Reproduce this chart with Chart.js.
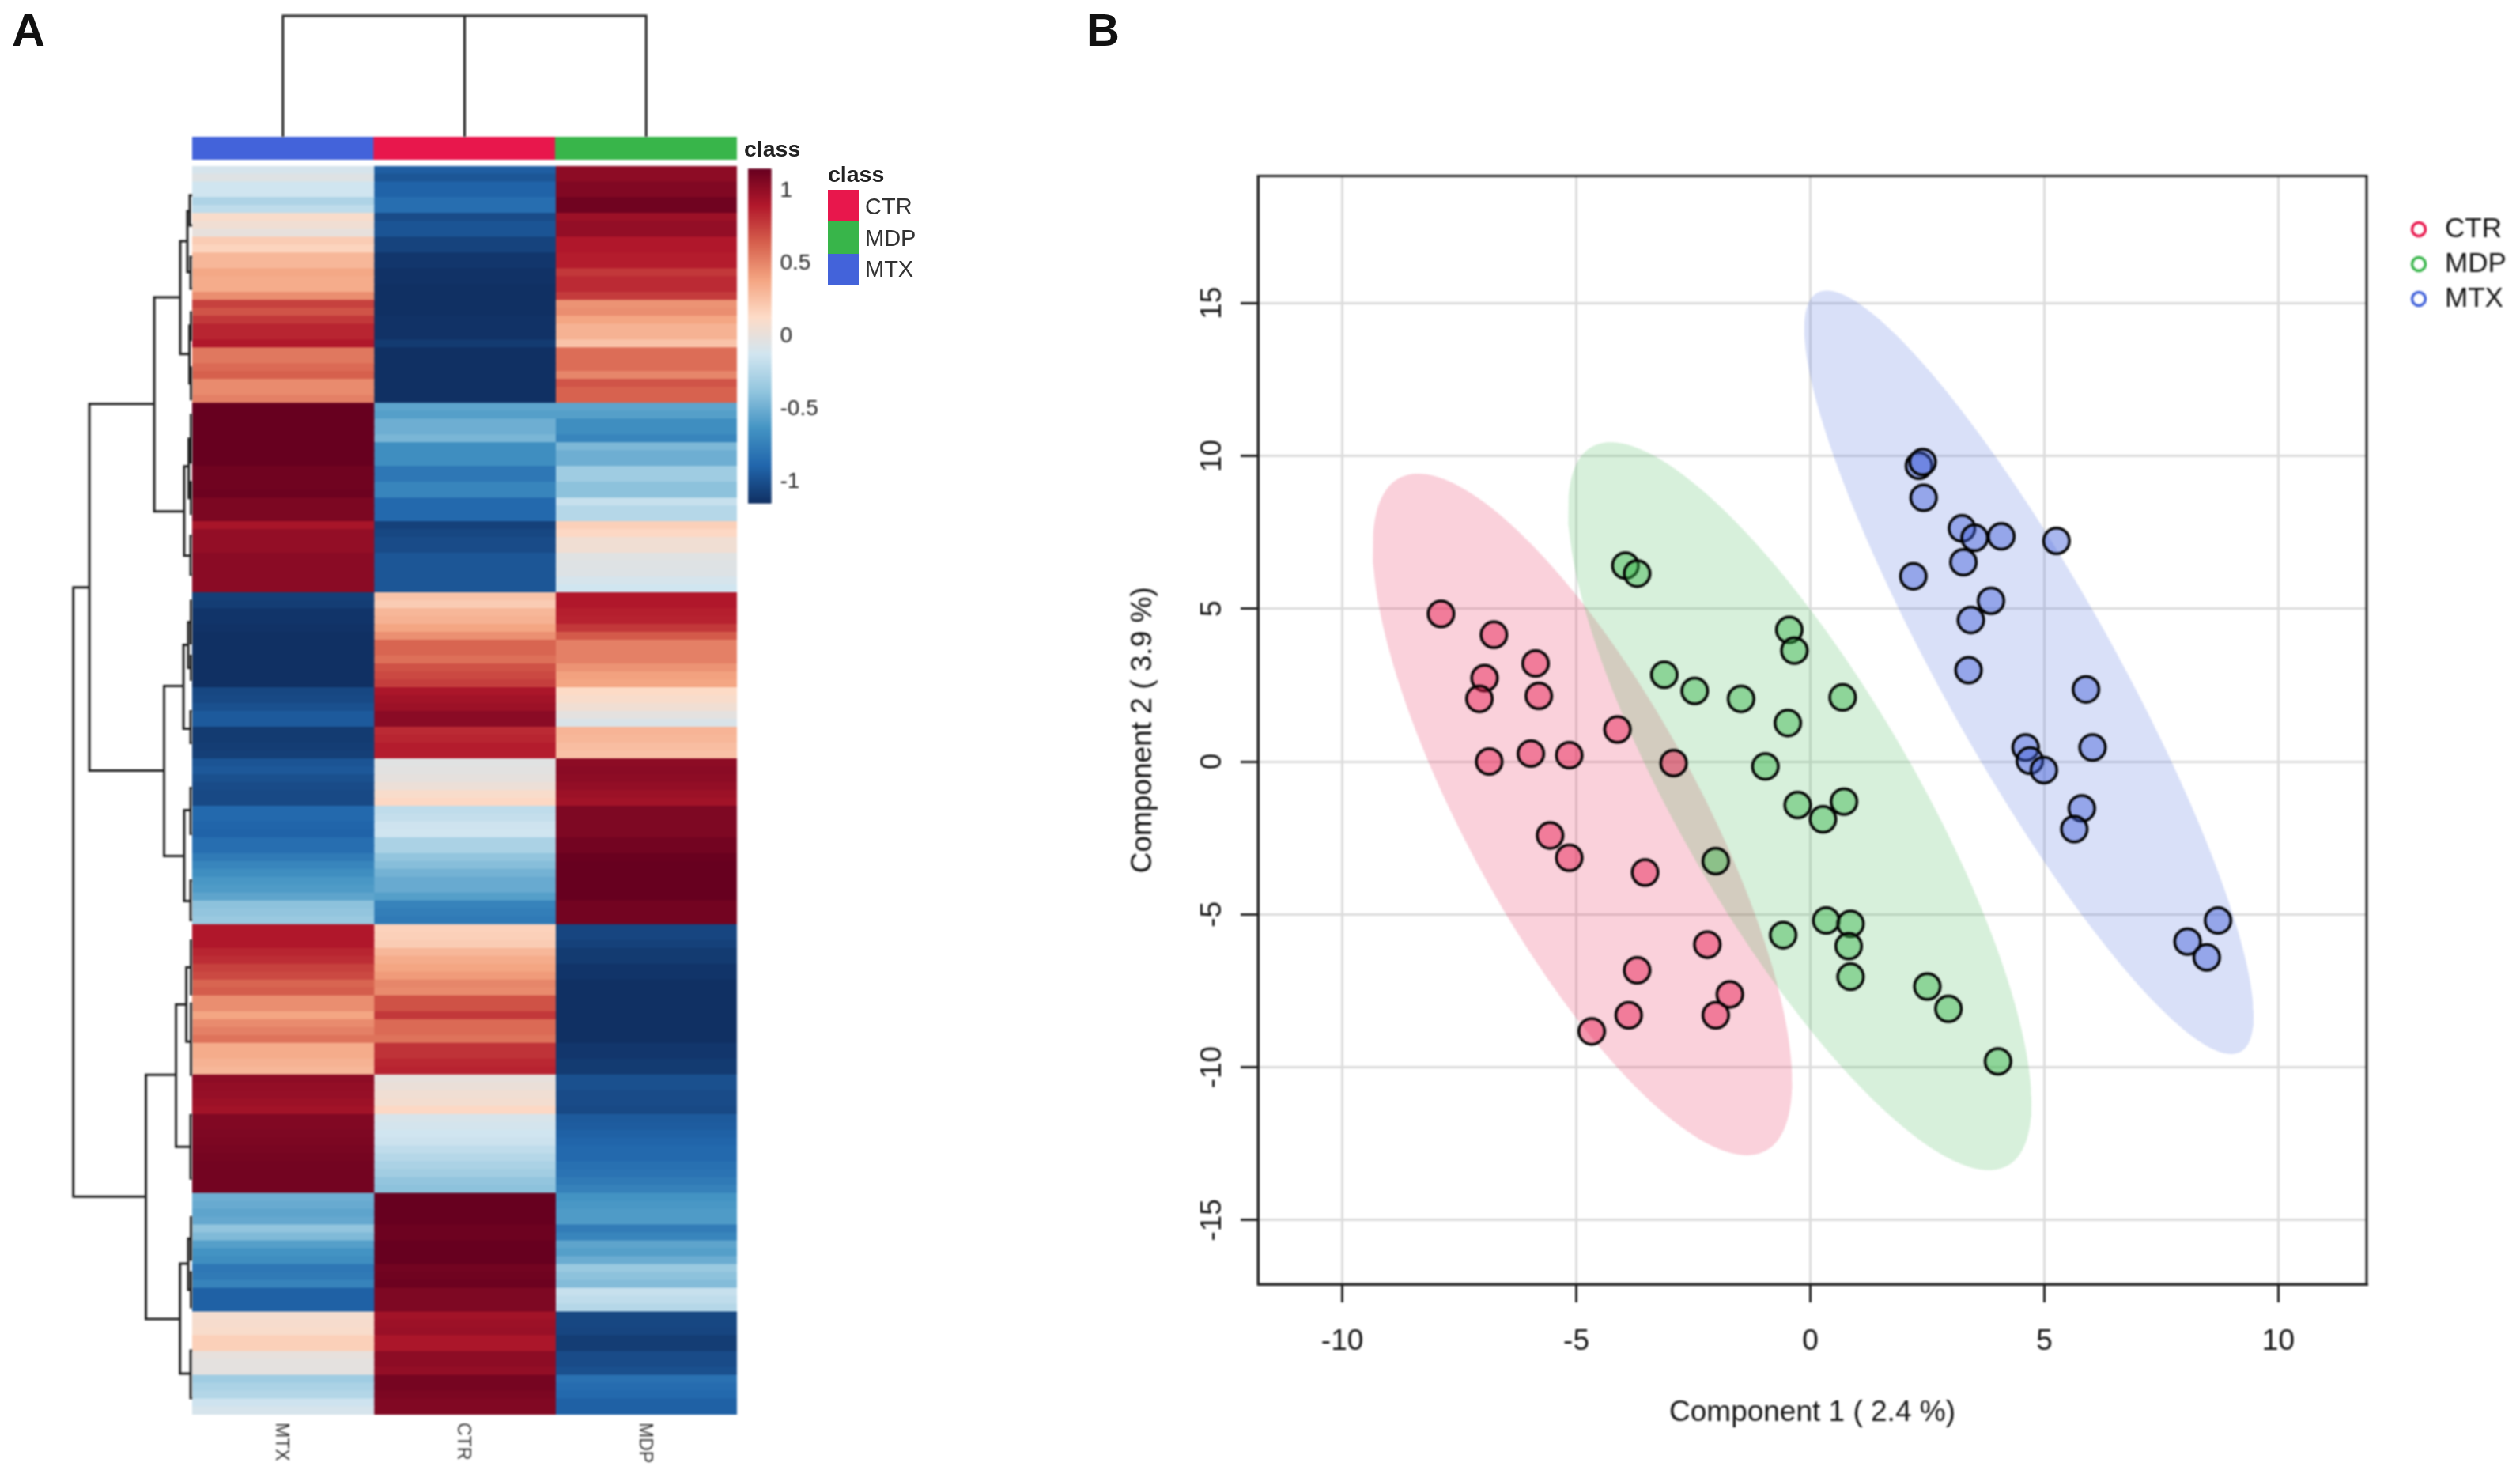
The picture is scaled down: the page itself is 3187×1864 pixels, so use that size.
<!DOCTYPE html>
<html><head><meta charset="utf-8">
<style>
html,body{margin:0;padding:0;background:#fff;width:3187px;height:1864px;overflow:hidden}
canvas{position:absolute;display:block;filter:blur(.9px)}
.t{position:absolute;font-family:"Liberation Sans",Arial,sans-serif;color:#222;white-space:nowrap;line-height:1;transform:translateY(-50%);filter:blur(.5px)}
.s{position:absolute}
</style>
<script src="https://cdn.jsdelivr.net/npm/chart.js@4/dist/chart.umd.min.js"></script>
</head><body>
<script>
// ---------- data ----------
const categories = ['MTX','CTR','MDP'];
const classNames = ['CTR','MDP','MTX'];
const classColors = {CTR:'#E8174C', MDP:'#38B54A', MTX:'#4363DA'};
const heatMTX = [-.10,-.05,-.13,-.13,-.27,-.20,.10,.05,0,.20,.16,.30,.30,.37,.35,.35,.47,.75,.68,.78,.85,.85,.90,.55,.55,.60,.64,.48,.48,.52,
1.15,1.15,1.15,1.15,1.15,1.15,1.15,1.15,1.12,1.12,1.12,1.13,1.08,1.08,1.08,.93,1.0,1.0,1.0,1.03,1.03,1.03,1.03,1.03,
-1.08,-1.09,-1.13,-1.13,-1.14,-1.15,-1.15,-1.15,-1.15,-1.15,-1.15,-1.15,-1.04,-1.03,-1.0,-.95,-.95,-1.10,-1.10,-1.09,-1.08,-.98,-.96,-1.0,-1.02,-1.03,-1.03,
-.88,-.88,-.90,-.91,-.85,-.85,-.78,-.72,-.67,-.62,-.60,-.55,-.40,-.38,-.35,
.90,.90,.90,.85,.82,.75,.72,.62,.65,.47,.47,.38,.48,.52,.57,.35,.35,.32,.30,1.02,1.0,.99,.97,.95,1.06,1.06,1.07,1.08,1.09,1.10,1.11,1.11,1.11,1.11,
-.50,-.52,-.55,-.53,-.38,-.44,-.58,-.64,-.67,-.80,-.78,-.73,-.92,-.92,-.92,.08,.09,.10,.18,.18,0,-.02,-.02,-.33,-.28,-.25,-.14,-.10];
const heatCTR = [-.93,-.97,-.91,-.91,-.85,-.85,-1.02,-.98,-.98,-1.06,-1.06,-1.12,-1.12,-1.14,-1.14,-1.15,-1.15,-1.15,-1.15,-1.14,-1.14,-1.14,-1.10,-1.15,-1.15,-1.15,-1.15,-1.15,-1.15,-1.15,
-.55,-.58,-.50,-.50,-.46,-.67,-.67,-.67,-.80,-.80,-.72,-.72,-.88,-.88,-.88,-1.07,-1.04,-1.02,-1.02,-.97,-.97,-.97,-.97,-.97,
.24,.20,.30,.32,.38,.46,.62,.62,.58,.69,.72,.76,.92,.95,.97,1.03,1.03,.83,.85,.88,.88,-.04,-.03,-.01,.03,.10,.14,
-.20,-.18,-.14,-.13,-.28,-.28,-.38,-.42,-.48,-.52,-.52,-.58,-.73,-.76,-.78,
.17,.18,.20,.30,.35,.38,.42,.50,.48,.69,.69,.78,.60,.60,.57,.80,.80,.84,.86,0,.02,.05,.07,.14,-.09,-.11,-.13,-.15,-.20,-.24,-.28,-.32,-.38,-.40,
1.15,1.15,1.15,1.15,1.13,1.13,1.15,1.15,1.15,1.11,1.12,1.13,1.07,1.07,1.07,.95,.97,.98,.92,.92,1.02,1.02,1.0,1.1,1.1,1.08,1.06,1.06];
const heatMDP = [1.02,1.02,1.06,1.06,1.12,1.12,.97,1.0,1.0,.9,.9,.88,.88,.78,.83,.83,.77,.45,.47,.38,.32,.32,.24,.59,.59,.59,.50,.68,.63,.63,
-.55,-.58,-.67,-.67,-.72,-.45,-.50,-.50,-.33,-.33,-.40,-.40,-.17,-.24,-.24,.18,.14,.05,.05,-.04,-.05,-.06,-.10,-.13,
.90,.90,.87,.86,.78,.66,.52,.52,.52,.45,.40,.38,.13,.10,.05,-.02,-.08,.31,.30,.27,.25,1.02,1.03,1.02,1.0,.97,.95,
1.07,1.07,1.07,1.07,1.11,1.11,1.14,1.15,1.15,1.15,1.15,1.15,1.11,1.11,1.11,
-1.05,-1.05,-1.07,-1.10,-1.10,-1.13,-1.13,-1.15,-1.15,-1.15,-1.15,-1.15,-1.15,-1.15,-1.15,-1.12,-1.12,-1.10,-1.10,-1.0,-1.0,-1.02,-1.02,-1.03,-.95,-.94,-.92,-.90,-.88,-.88,-.84,-.82,-.78,-.74,
-.64,-.62,-.60,-.60,-.77,-.72,-.55,-.58,-.51,-.35,-.40,-.43,-.17,-.20,-.24,-1.04,-1.04,-1.05,-1.09,-1.09,-1.02,-1.02,-1.0,-.83,-.86,-.88,-.92,-.92];
const colorStops = ['#103063','#2166AC','#4393C3','#92C5DE','#D1E5F0','#FDDBC7','#F4A582','#D6604D','#B2182B','#67001F'];
const colorTicks = [-1,-0.5,0,0.5,1];
const xTicks = [-10,-5,0,5,10];
const yTicks = [-15,-10,-5,0,5,10,15];
const ctrX = [-7.89,-6.76,-6.96,-5.87,-7.07,-5.80,-4.12,-6.86,-5.97,-5.15,-2.92,-5.56,-5.15,-3.53,-2.20,-3.70,-3.88,-1.72,-2.02,-4.67];
const ctrY = [4.83,4.15,2.73,3.21,2.05,2.15,1.05,0,.26,.21,-.05,-2.42,-3.15,-3.63,-5.99,-6.83,-8.30,-7.62,-8.30,-8.83];
const mdpX = [-3.95,-3.70,-3.12,-2.47,-1.48,-.45,-.34,-.48,.69,-.96,-.27,.72,.27,-2.02,.34,.86,-.58,.82,.86,2.50,2.95,4.01];
const mdpY = [6.41,6.15,2.84,2.31,2.05,4.31,3.63,1.26,2.10,-.16,-1.42,-1.31,-1.89,-3.26,-5.20,-5.31,-5.68,-6.04,-7.04,-7.36,-8.09,-9.81];
const mtxX = [2.32,2.40,2.42,3.24,3.51,4.08,5.26,3.27,2.20,3.86,3.43,3.38,5.89,4.60,6.03,4.69,4.99,5.80,5.64,8.06,8.71,8.47];
const mtxY = [9.68,9.80,8.63,7.63,7.32,7.37,7.22,6.52,6.06,5.26,4.63,2.99,2.36,.46,.46,.03,-.28,-1.53,-2.21,-5.89,-5.20,-6.41];
// ellipse: centre x, centre y, half width, half height, correlation
const ctrEllipse = [-4.87,-1.73,4.48,11.15,-.784];
const mdpEllipse = [-.226,-1.46,4.95,11.91,-.816];
const mtxEllipse = [4.67,2.92,4.80,12.49,-.90];
// row dendrogram merges: height, top row, bottom row, top child height, bottom child height
const rowMerges = [[1,53.3,130.4,.865,.389],[.865,30.1,76.5,.319,.236],[.319,16.6,43.7,.1,.067],[.1,9.5,23.8,.04,.023],
[.04,5.7,13.4,.02,.013],[.02,3.7,7.5,0,0],[.013,11.5,15.5,0,0],[.023,20.2,27.5,.01,.01],[.01,18.5,22,0,0],[.01,25.5,29.5,0,0],
[.067,38,49.3,.029,.013],[.029,34.5,42,.01,.01],[.01,31.5,37.5,0,0],[.01,40,44,0,0],[.013,46.8,51.7,0,0],
[.236,65.8,87.3,.073,.067],[.073,60.6,71.2,.033,.013],[.033,57.7,63.5,.01,.01],[.01,55,60.4,0,0],[.01,62,65,0,0],[.013,69,73,0,0],
[.067,81.5,93,.013,.013],[.013,78.7,84.5,0,0],[.013,90.4,95.4,0,0],
[.389,115,145.9,.136,.102],[.136,106.1,124.1,.049,.013],[.049,101.4,110.8,.01,.01],[.01,98,104.8,0,0],[.01,106,115,0,0],[.013,120.1,128.1,0,0],
[.102,138.9,152.8,.033,.013],[.033,135.7,142.2,.01,.01],[.01,133,138.4,0,0],[.01,140,144.4,0,0],[.013,149.9,155.9,0,0]];
// column dendrogram: top bracket joins the three columns
const colMerge = [0.5,1.5,2.5];

// ---------- helpers ----------
const FONT = '"Liberation Sans", Arial, sans-serif';
Chart.defaults.font.family = FONT;
Chart.defaults.animation = false;
Chart.defaults.devicePixelRatio = 1;
Chart.defaults.responsive = false;
Chart.defaults.plugins.tooltip.enabled = false;
Chart.defaults.plugins.legend.display = false;

function hex(h){return [1,3,5].map(i=>parseInt(h.substr(i,2),16));}
const RAMP = colorStops.map(hex), VMAX = 1.15;
function colorOf(v){
  const t = Math.min(1,Math.max(0,(v+VMAX)/(2*VMAX)))*(RAMP.length-1);
  const i = Math.min(RAMP.length-2,Math.floor(t)), f=t-i;
  const c = RAMP[i].map((a,k)=>Math.round(a+(RAMP[i+1][k]-a)*f));
  return `rgb(${c[0]},${c[1]},${c[2]})`;
}
function mkCanvas(l,t,w,h){
  const c=document.createElement('canvas');
  c.width=w;c.height=h;
  c.style.left=l+'px';c.style.top=t+'px';c.style.width=w+'px';c.style.height=h+'px';
  document.body.appendChild(c);return c;
}
function text(str,l,cy,size,extra){
  const d=document.createElement('div');d.className='t';d.textContent=str;
  d.style.left=l+'px';d.style.top=cy+'px';d.style.fontSize=size+'px';
  if(extra)Object.assign(d.style,extra);
  document.body.appendChild(d);return d;
}
function pts(xs,ys){return xs.map((x,i)=>({x,y:ys[i]}));}
function ellipsePts(e){
  const [cx,cy,sx,sy,r]=e, d=Math.acos(r), out=[];
  for(let k=0;k<=180;k++){const t=k/180*2*Math.PI;out.push({x:cx+sx*Math.cos(t),y:cy+sy*Math.cos(t-d)});}
  return out;
}
function alpha(h,a){const c=hex(h);return `rgba(${c[0]},${c[1]},${c[2]},${a})`;}

// ---------- panel letters ----------
text('A',15,38,58,{fontWeight:'bold',color:'#111'});
text('B',1374,38,58,{fontWeight:'bold',color:'#111'});

// ---------- heat map ----------
const rowLabels = heatMTX.map((_,i)=>String(i+1));
const columnLabels = {
  id:'columnLabels',
  afterDraw(chart){
    const {ctx,scales:{x},chartArea}=chart;
    ctx.save();
    ctx.font='23px '+FONT;ctx.fillStyle='#333';ctx.textAlign='left';ctx.textBaseline='middle';
    categories.forEach((c,i)=>{
      ctx.save();ctx.translate(x.getPixelForValue(i+.5)-2,chartArea.bottom+10);ctx.rotate(Math.PI/2);
      ctx.fillText(c,0,0);ctx.restore();
    });
    ctx.restore();
  }
};
new Chart(mkCanvas(243,210,689,1654),{
  type:'bar',
  data:{labels:rowLabels,datasets:[heatMTX,heatCTR,heatMDP].map((vals,i)=>({
    label:categories[i],
    data:vals.map(()=>1),
    backgroundColor:vals.map(colorOf),
    borderWidth:0,inflateAmount:.6,
    barPercentage:1,categoryPercentage:1,stack:'s'
  }))},
  options:{indexAxis:'y',layout:{padding:{bottom:75}},
    scales:{x:{type:'linear',stacked:true,min:0,max:3,display:false},y:{stacked:true,display:false}}},
  plugins:[columnLabels]
});

// ---------- class annotation bar ----------
new Chart(mkCanvas(243,173,689,29),{
  type:'bar',
  data:{labels:categories,datasets:[{data:categories.map(()=>1),backgroundColor:categories.map(c=>classColors[c]),
    borderWidth:0,barPercentage:1,categoryPercentage:1}]},
  options:{scales:{x:{display:false},y:{display:false,min:0,max:1}}}
});
text('class',941,188,28.5,{fontWeight:'bold'});

// ---------- column dendrogram ----------
new Chart(mkCanvas(233,8,709,165),{
  type:'scatter',
  data:{datasets:[
    {data:[{x:colMerge[0],y:0},{x:colMerge[0],y:1},{x:colMerge[2],y:1},{x:colMerge[2],y:0}]},
    {data:[{x:colMerge[1],y:1},{x:colMerge[1],y:0}]}
  ].map(d=>Object.assign(d,{showLine:true,pointRadius:0,borderColor:'#222',borderWidth:3,clip:false}))},
  options:{layout:{padding:{left:10,right:10,top:12}},scales:{x:{type:'linear',min:0,max:3,display:false},y:{min:0,max:1,display:false}}}
});

// ---------- row dendrogram ----------
new Chart(mkCanvas(80,210,163,1579),{
  type:'scatter',
  data:{datasets:rowMerges.map(m=>({
    data:[{x:m[3],y:m[1]},{x:m[0],y:m[1]},{x:m[0],y:m[2]},{x:m[4],y:m[2]}],
    showLine:true,pointRadius:0,borderColor:'#222',borderWidth:3,clip:false
  }))},
  options:{scales:{x:{type:'linear',reverse:true,min:0,max:1.0845,display:false},
                   y:{type:'linear',reverse:true,min:0,max:heatMTX.length,display:false}}}
});

// ---------- colour key ----------
const keyLevels=[];for(let i=0;i<230;i++)keyLevels.push(-1.15+i*0.01);
new Chart(mkCanvas(946,184,100,482),{
  type:'bar',
  data:{labels:['key'],datasets:keyLevels.map(v=>({data:[[v,v+0.01]],backgroundColor:colorOf(v+0.005),
    borderWidth:0,inflateAmount:.5,barPercentage:1,categoryPercentage:1,grouped:false}))},
  options:{
    datasets:{bar:{grouped:false}},
    scales:{x:{display:false},
      y:{position:'right',min:-1.16,max:1.16,grid:{display:false,drawTicks:false},border:{display:false},
        afterFit(s){s.width=70.5;},
        afterBuildTicks(s){s.ticks=colorTicks.map(value=>({value}));},
        ticks:{padding:11,color:'#222',font:{size:28},callback:v=>String(v)}}}}
});

// ---------- class legend ----------
text('class',1047,220,28.5,{fontWeight:'bold'});
classNames.forEach((c,i)=>{
  const s=document.createElement('div');s.className='s';
  s.style.cssText=`left:1047px;top:${240+i*40.3}px;width:39px;height:40.3px;background:${classColors[c]}`;
  document.body.appendChild(s);
  text(c,1094,261+i*39.6,29,{color:'#333'});
});

// ---------- scatter ----------
const frame={id:'frame',
  afterLayout(chart){
    const l=chart.legend; if(!l)return;
    l.left=1634.5;l.right=1787;l.top=263.5;l.bottom=420;
  },
  afterDraw(chart){
    const {ctx,chartArea:a}=chart;ctx.save();ctx.strokeStyle='#222';ctx.lineWidth=3;
    ctx.strokeRect(a.left,a.top,a.right-a.left,a.bottom-a.top);ctx.restore();
  }};
const groups=[['CTR',ctrX,ctrY,ctrEllipse],['MDP',mdpX,mdpY,mdpEllipse],['MTX',mtxX,mtxY,mtxEllipse]];
new Chart(mkCanvas(1400,0,1787,1864),{
  type:'scatter',
  data:{datasets:[
    ...groups.map(([n,xs,ys])=>({label:n,data:pts(xs,ys),order:1,pointRadius:16.3,pointBorderWidth:3.5,
      pointBackgroundColor:alpha(classColors[n],.46),pointBorderColor:'#000',showLine:false})),
    ...groups.map(([n,,,e],i)=>({label:n+' ellipse',data:ellipsePts(e),order:5-i,showLine:true,pointRadius:0,borderWidth:0,
      fill:'shape',backgroundColor:alpha(classColors[n],.2),borderColor:'transparent'}))
  ]},
  options:{
    layout:{padding:{left:23.8,top:222.5,right:194,bottom:55}},
    plugins:{legend:{display:true,position:'chartArea',align:'start',
      labels:{usePointStyle:true,boxWidth:31,boxHeight:12,padding:9,color:'#111',font:{size:35},
        generateLabels:()=>classNames.map((n,i)=>({text:n,fillStyle:'transparent',strokeStyle:classColors[n],lineWidth:3.5,pointStyle:'circle',datasetIndex:i,hidden:false,fontColor:'#111'}))}}},
    scales:{
      x:{type:'linear',min:-11.8,max:11.885,
        afterFit(s){s.height=185;},
        afterBuildTicks(s){s.ticks=xTicks.map(value=>({value}));},
        grid:{color:'#dcdcdc',lineWidth:3,tickColor:'#222',tickLength:23},
        border:{color:'#222',width:3},
        ticks:{padding:28,color:'#111',font:{size:37},maxRotation:0,callback:v=>String(v)},
        title:{display:true,text:'Component 1 ( 2.4 %)',color:'#111',font:{size:37},padding:0}},
      y:{type:'linear',min:-17.1,max:19.16,
        afterFit(s){s.width=167.2;},
        afterBuildTicks(s){s.ticks=yTicks.map(value=>({value}));},
        grid:{color:'#dcdcdc',lineWidth:3,tickColor:'#222',tickLength:22},
        border:{color:'#222',width:3},
        ticks:{padding:8.5,color:'#111',font:{size:37},minRotation:90,maxRotation:90,crossAlign:'center',callback:v=>String(v)},
        title:{display:true,text:'Component 2 ( 3.9 %)',color:'#111',font:{size:37},padding:0}}
    }
  },
  plugins:[frame]
});
</script>
</body></html>
